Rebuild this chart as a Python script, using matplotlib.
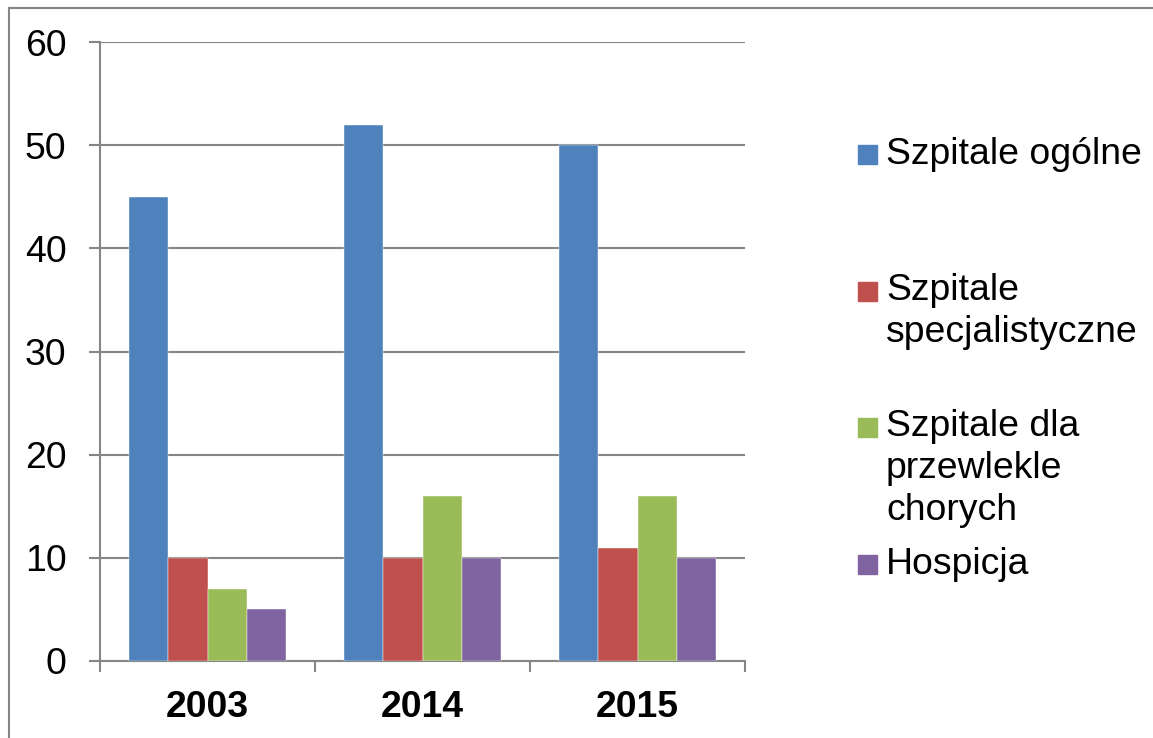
import numpy as np
import matplotlib
matplotlib.use("Agg")
import matplotlib.pyplot as plt
from matplotlib.patches import Rectangle
from matplotlib.lines import Line2D

years = ["2003", "2014", "2015"]
legend_lines = [["Szpitale ogólne"], ["Szpitale", "specjalistyczne"],
                ["Szpitale dla", "przewlekle", "chorych"], ["Hospicja"]]
ogolne = [45, 52, 50]
specjalistyczne = [10, 10, 11]
przewlekle = [7, 16, 16]
hospicja = [5, 10, 10]
values = [ogolne, specjalistyczne, przewlekle, hospicja]
colors = ["#4F81BD", "#C0504D", "#9BBB59", "#8064A2"]
gray = "#868686"

plt.rcParams["font.family"] = ["Liberation Sans", "DejaVu Sans"]
fs = 26.9

W, H = 1153, 738
fig = plt.figure(figsize=(W / 100, H / 100), dpi=100)
ax = fig.add_axes([100 / W, 1 - 661 / H, 645 / W, 619 / H])

x = np.arange(len(years))
n = len(values)
width = 1 / (n + 1.5)
for i, (vals, c) in enumerate(zip(values, colors)):
    ax.bar(x + (i - (n - 1) / 2) * width, vals, width, color=c, zorder=3,
           edgecolor="white", linewidth=0.3)

ax.set_xlim(-0.5, len(years) - 0.5)
ax.set_ylim(0, 60)
ax.set_yticks(range(0, 61, 10))
ax.yaxis.grid(True, color=gray, linewidth=1.5, zorder=0)
ax.tick_params(axis="y", length=8, width=1.5, color=gray, labelsize=fs, pad=16)

ax.set_xticks(x)
ax.set_xticklabels(years, fontsize=fs, fontweight="bold")
ax.set_xticks(np.arange(-0.5, len(years)), minor=True)
ax.tick_params(axis="x", which="major", length=0, pad=21)
ax.tick_params(axis="x", which="minor", length=8, width=1.5, color=gray)

for s in ["top", "right"]:
    ax.spines[s].set_visible(False)
for s in ["left", "bottom"]:
    ax.spines[s].set_color(gray)
    ax.spines[s].set_linewidth(1.5)

# outer chart frame (partially cropped in the original)
fig.add_artist(Line2D([9 / W, 1], [1 - 8 / H, 1 - 8 / H], color=gray, linewidth=1.5))
fig.add_artist(Line2D([9 / W, 9 / W], [0, 1 - 8 / H], color=gray, linewidth=1.5))

# legend drawn by hand so the marker sits at the first text line
entry_y = [154, 291, 427, 564]
line_gap = 42
sq = 19
for lines, c, y0 in zip(legend_lines, colors, entry_y):
    fig.add_artist(Rectangle((858 / W, 1 - (y0 + sq / 2) / H), sq / W, sq / H,
                             color=c, transform=fig.transFigure))
    for k, t in enumerate(lines):
        fig.text(886 / W, 1 - (y0 + k * line_gap) / H, t, fontsize=fs,
                 va="center", ha="left")

fig.savefig("out.png", dpi=100)
